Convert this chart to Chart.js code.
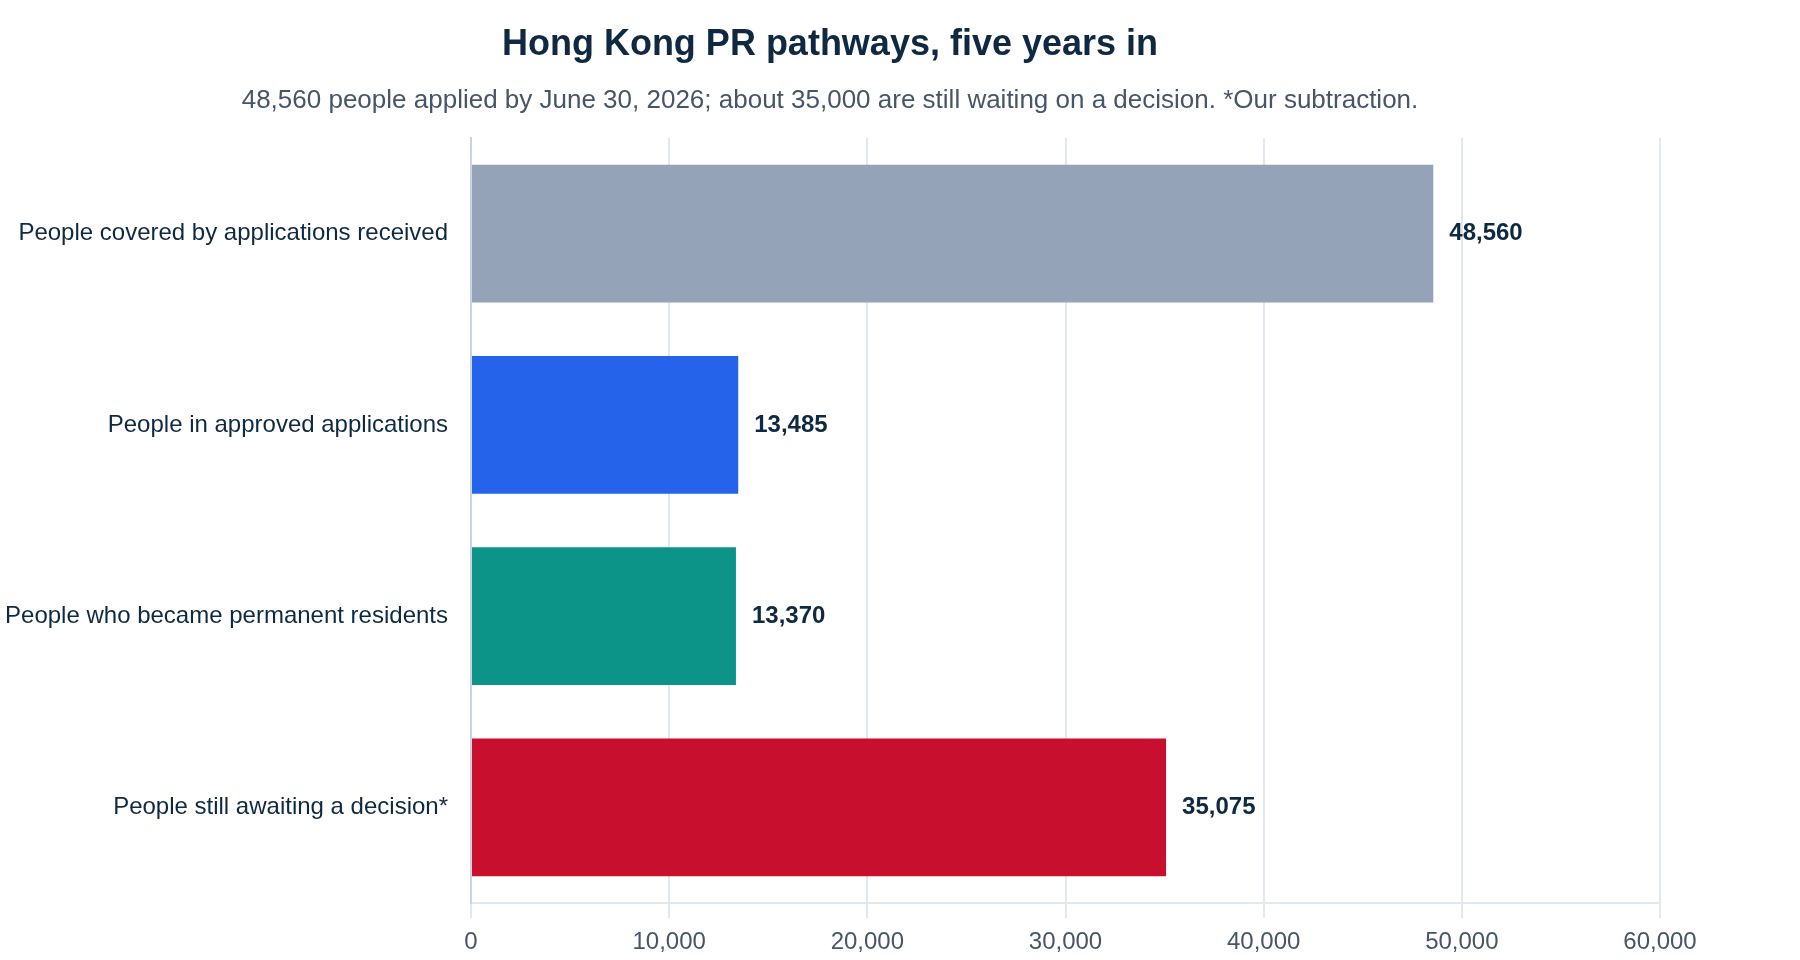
<!DOCTYPE html>
<html>
<head>
<meta charset="utf-8">
<script src="https://cdn.jsdelivr.net/npm/chart.js@4.4.1/dist/chart.umd.min.js"></script>
<style>
  html, body { margin: 0; padding: 0; background: #ffffff; }
  body { width: 1800px; height: 960px; position: relative; overflow: hidden; font-family: "Liberation Sans", Arial, sans-serif; }
  #title { position: absolute; left: 0; top: 25px; width: 1660px; text-align: center; font-size: 36px; line-height: 36px; font-weight: bold; color: #0f2942; white-space: nowrap; }
  #subtitle { position: absolute; left: 0; top: 86px; width: 1660px; text-align: center; font-size: 26px; line-height: 26px; color: #475569; white-space: nowrap; }
  #wrap { position: absolute; left: 0; top: 0; width: 1800px; height: 960px; }
</style>
</head>
<body>
<div id="wrap"><canvas id="c"></canvas></div>
<div id="title">Hong Kong PR pathways, five years in</div>
<div id="subtitle">48,560 people applied by June 30, 2026; about 35,000 are still waiting on a decision. *Our subtraction.</div>
<script>
const categories = [
  "People covered by applications received",
  "People in approved applications",
  "People who became permanent residents",
  "People still awaiting a decision*"
];
const peopleCounts = [48560, 13485, 13370, 35075];
const barColors = ["#94a3b8", "#2563eb", "#0d9488", "#c8102e"];
const xTickMin = 0;
const xTickMax = 60000;
const xTickStep = 10000;

const fmt = v => Number(v).toLocaleString("en-US");

const valueLabels = {
  id: "valueLabels",
  afterDatasetsDraw(chart) {
    const ctx = chart.ctx;
    const meta = chart.getDatasetMeta(0);
    ctx.save();
    ctx.font = "bold 24px 'Liberation Sans', Arial, sans-serif";
    ctx.fillStyle = "#0f2942";
    ctx.textAlign = "left";
    ctx.textBaseline = "middle";
    meta.data.forEach((bar, i) => {
      ctx.fillText(fmt(chart.data.datasets[0].data[i]), bar.x + 16, bar.y);
    });
    ctx.restore();
  }
};

new Chart(document.getElementById("c"), {
  type: "bar",
  data: {
    labels: categories,
    datasets: [{
      data: peopleCounts,
      backgroundColor: barColors,
      borderWidth: 0,
      barPercentage: 0.8,
      categoryPercentage: 0.9
    }]
  },
  options: {
    indexAxis: "y",
    responsive: true,
    maintainAspectRatio: false,
    animation: false,
    layout: { padding: { top: 138, left: 5, right: 140, bottom: 7 } },
    plugins: {
      legend: { display: false },
      tooltip: { enabled: false },
      title: { display: false }
    },
    scales: {
      x: {
        min: xTickMin,
        max: xTickMax,
        afterFit: scale => { scale.height = 50; },
        ticks: {
          stepSize: xTickStep,
          color: "#475569",
          padding: 10,
          font: { family: "'Liberation Sans', Arial, sans-serif", size: 24 },
          callback: v => fmt(v)
        },
        grid: { color: "#e2e8f0", lineWidth: 2, tickLength: 15, drawTicks: true },
        border: { color: "#e2e8f0", width: 2 }
      },
      y: {
        afterFit: scale => { scale.width = 466; },
        ticks: {
          color: "#0f2942",
          padding: 23,
          font: { family: "'Liberation Sans', Arial, sans-serif", size: 24 }
        },
        grid: { display: false, drawTicks: false },
        border: { color: "#cbd5e1", width: 2 }
      }
    }
  },
  plugins: [valueLabels]
});
</script>
</body>
</html>
